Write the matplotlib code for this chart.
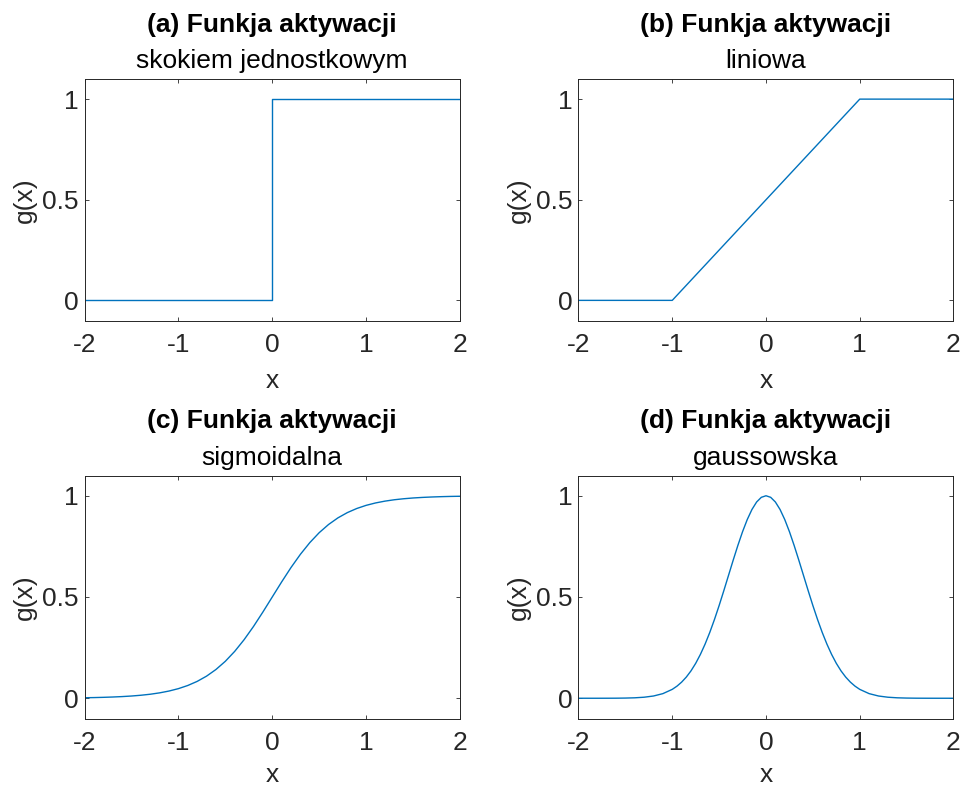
import matplotlib
matplotlib.use("Agg")
import matplotlib.pyplot as plt

plt.rcParams['font.family'] = ['Liberation Sans', 'DejaVu Sans']
plt.rcParams['axes.unicode_minus'] = False

# ---- data ----
step_x = [-2.0, 0.0, 0.0, 2.0]
step_y = [0.0, 0.0, 1.0, 1.0]

lin_x = [-2.0, -1.0, 1.0, 2.0]
lin_y = [0.0, 0.0, 1.0, 1.0]

sig_x = [-2.0, -1.9, -1.8, -1.7, -1.6, -1.5, -1.4, -1.3, -1.2, -1.1, -1.0,
         -0.9, -0.8, -0.7, -0.6, -0.5, -0.4, -0.3, -0.2, -0.1, 0.0,
         0.1, 0.2, 0.3, 0.4, 0.5, 0.6, 0.7, 0.8, 0.9, 1.0,
         1.1, 1.2, 1.3, 1.4, 1.5, 1.6, 1.7, 1.8, 1.9, 2.0]
sig_y = [0.0025, 0.0033, 0.0045, 0.0061, 0.0082, 0.0110, 0.0148, 0.0198, 0.0266, 0.0356, 0.0474,
         0.0630, 0.0832, 0.1091, 0.1419, 0.1824, 0.2315, 0.2891, 0.3543, 0.4256, 0.5000,
         0.5744, 0.6457, 0.7109, 0.7685, 0.8176, 0.8581, 0.8909, 0.9168, 0.9370, 0.9526,
         0.9644, 0.9734, 0.9802, 0.9852, 0.9890, 0.9918, 0.9939, 0.9955, 0.9967, 0.9975]

gau_x = [-2.0, -1.9, -1.8, -1.7, -1.6, -1.5, -1.4, -1.3, -1.2, -1.1, -1.0,
         -0.95, -0.9, -0.85, -0.8, -0.75, -0.7, -0.65, -0.6, -0.55, -0.5,
         -0.45, -0.4, -0.35, -0.3, -0.25, -0.2, -0.15, -0.1, -0.05, 0.0,
         0.05, 0.1, 0.15, 0.2, 0.25, 0.3, 0.35, 0.4, 0.45, 0.5,
         0.55, 0.6, 0.65, 0.7, 0.75, 0.8, 0.85, 0.9, 0.95, 1.0,
         1.1, 1.2, 1.3, 1.4, 1.5, 1.6, 1.7, 1.8, 1.9, 2.0]
gau_y = [0.0, 0.0, 0.0, 0.0001, 0.0003, 0.0009, 0.0022, 0.0051, 0.0111, 0.0228, 0.0439,
         0.0596, 0.0796, 0.1046, 0.1353, 0.1724, 0.2163, 0.2671, 0.3247, 0.3886, 0.4578,
         0.5311, 0.6065, 0.6819, 0.7548, 0.8226, 0.8825, 0.9321, 0.9692, 0.9922, 1.0,
         0.9922, 0.9692, 0.9321, 0.8825, 0.8226, 0.7548, 0.6819, 0.6065, 0.5311, 0.4578,
         0.3886, 0.3247, 0.2671, 0.2163, 0.1724, 0.1353, 0.1046, 0.0796, 0.0596, 0.0439,
         0.0228, 0.0111, 0.0051, 0.0022, 0.0009, 0.0003, 0.0001, 0.0, 0.0, 0.0]

titles = ["(a) Funkja aktywacji", "(b) Funkja aktywacji",
          "(c) Funkja aktywacji", "(d) Funkja aktywacji"]
subtitles = ["skokiem jednostkowym", "liniowa", "sigmoidalna", "gaussowska"]
x_ticks = [-2, -1, 0, 1, 2]
x_ticklabels = ["-2", "-1", "0", "1", "2"]
y_ticks = [0, 0.5, 1]
y_ticklabels = ["0", "0.5", "1"]

series = [(step_x, step_y), (lin_x, lin_y), (sig_x, sig_y), (gau_x, gau_y)]

W, H = 962, 788
fig = plt.figure(figsize=(W / 100, H / 100), dpi=100)

# axes boxes in pixels: left, top, right, bottom
boxes = [(84.5, 79, 460, 320.5), (578.5, 79, 953.5, 320.5),
         (84.5, 475.5, 460, 718.5), (578.5, 475.5, 953.5, 718.5)]
xlabel_gap = [67.5, 67.5, 63.5, 63.5]

FS = 19
TXT = '#262626'
LINE = '#0072BD'

for i, (l, t, r, b) in enumerate(boxes):
    ax = fig.add_axes([l / W, (H - b) / H, (r - l) / W, (b - t) / H])
    xs, ys = series[i]
    ax.plot(xs, ys, color=LINE, lw=1.0)
    ax.set_xlim(-2, 2)
    ax.set_ylim(-0.1, 1.1)
    ax.set_xticks(x_ticks)
    ax.set_xticklabels(x_ticklabels)
    ax.set_yticks(y_ticks)
    ax.set_yticklabels(y_ticklabels)
    ax.tick_params(direction='in', length=3, width=0.6, colors=TXT,
                   labelsize=FS, top=True, right=True)
    ax.tick_params(axis='x', pad=9)
    ax.tick_params(axis='y', pad=4.5)
    for s in ax.spines.values():
        s.set_color(TXT)
        s.set_linewidth(0.7)
    ax.set_xlabel('x', fontsize=FS, color=TXT, va='baseline')
    ax.xaxis.set_label_coords(0.5, -xlabel_gap[i] / (b - t))
    ax.set_ylabel('g(x)', fontsize=FS, color=TXT, va='baseline')
    ax.yaxis.set_label_coords(-52.8 / (r - l), 0.5)
    ax.annotate(subtitles[i], xy=(0.5, 1.0), xycoords='axes fraction',
                xytext=(0, 7.7), textcoords='offset points',
                ha='center', va='baseline', fontsize=FS, color='black')
    ax.annotate(titles[i], xy=(0.5, 1.0), xycoords='axes fraction',
                xytext=(0, 34), textcoords='offset points',
                ha='center', va='baseline', fontsize=FS, fontweight='bold',
                color='black')

fig.savefig('out.png', dpi=100)
